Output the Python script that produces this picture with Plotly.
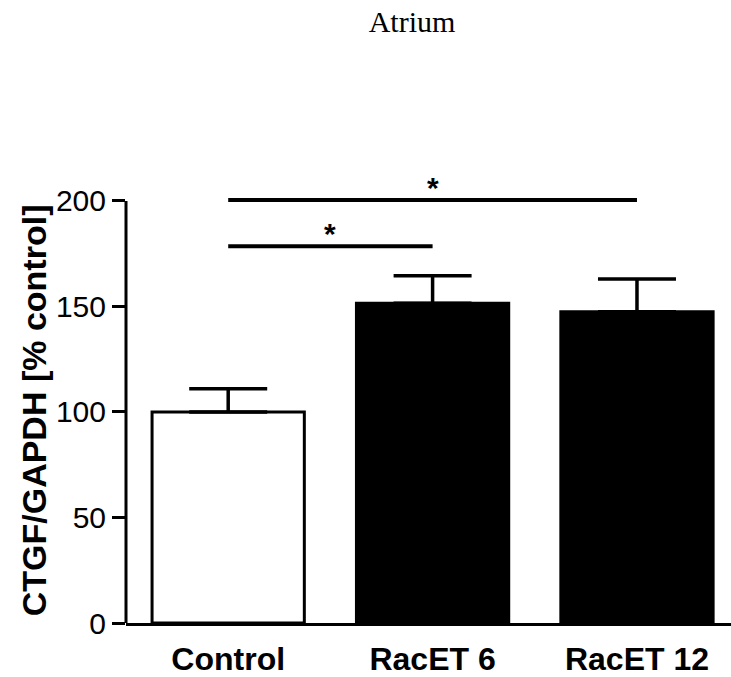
import plotly.graph_objects as go

categories = ["Control", "RacET 6", "RacET 12"]
means = [100, 151.5, 147.5]
sem = [11, 13, 15.5]
fills = ["white", "black", "black"]
y_ticks = [0, 50, 100, 150, 200]

# significance brackets: (from index, to index, level, label)
sig_from = [0, 0]
sig_to = [1, 2]
sig_level = [178.5, 200.5]
sig_label = ["*", "*"]

fig = go.Figure()
fig.add_trace(go.Bar(
    x=categories, y=means, width=0.745,
    marker=dict(color=fills, line=dict(color="black", width=3)),
    error_y=dict(type="data", symmetric=False, array=sem, arrayminus=[0] * len(sem),
                 width=39, thickness=3.5, color="black"),
    showlegend=False,
))

for a, b, lev, lab in zip(sig_from, sig_to, sig_level, sig_label):
    fig.add_shape(type="line", x0=a, x1=b, y0=lev, y1=lev, xref="x", yref="y",
                  line=dict(color="black", width=4))
    fig.add_annotation(x=(a + b) / 2, y=lev, xref="x", yref="y", text="<b>" + lab + "</b>",
                       showarrow=False, yanchor="bottom", yshift=-6,
                       font=dict(family="Arial, Liberation Sans", size=30, color="black"))

# vertical axis line from 0 to 200
fig.add_shape(type="line", xref="paper", yref="y", x0=0, x1=0, y0=0, y1=y_ticks[-1],
              line=dict(color="black", width=3))

fig.add_annotation(text="<b>CTGF/GAPDH [% control]</b>", textangle=-90,
                   xref="paper", yref="y", x=-0.153, y=101, showarrow=False,
                   xanchor="center", yanchor="middle",
                   font=dict(family="Arial, Liberation Sans", size=34, color="black"))

fig.update_layout(
    width=731, height=677,
    margin=dict(l=126, r=0, t=160, b=54),
    paper_bgcolor="white", plot_bgcolor="white",
    title=dict(text="Atrium", x=412 / 731, xref="container", xanchor="center",
               y=1 - 21 / 677, yref="container", yanchor="middle",
               font=dict(family="Liberation Serif, Times New Roman", size=30, color="black")),
)
fig.update_xaxes(range=[-0.5, 2.46], showline=True, linecolor="black", linewidth=3,
                 ticks="", showgrid=False, zeroline=False,
                 tickfont=dict(family="Arial, Liberation Sans", size=32, color="black",
                               weight="bold"),
                 ticklabelstandoff=6)
fig.update_yaxes(range=[0, 219.4], showline=False, tickmode="array", tickvals=y_ticks,
                 ticks="outside", ticklen=13, tickwidth=3, tickcolor="black",
                 showgrid=False, zeroline=False,
                 tickfont=dict(family="Arial, Liberation Sans", size=30, color="black"))

fig.write_html("out.html", config={"displayModeBar": False},
               post_script="document.body.style.margin='0';")
